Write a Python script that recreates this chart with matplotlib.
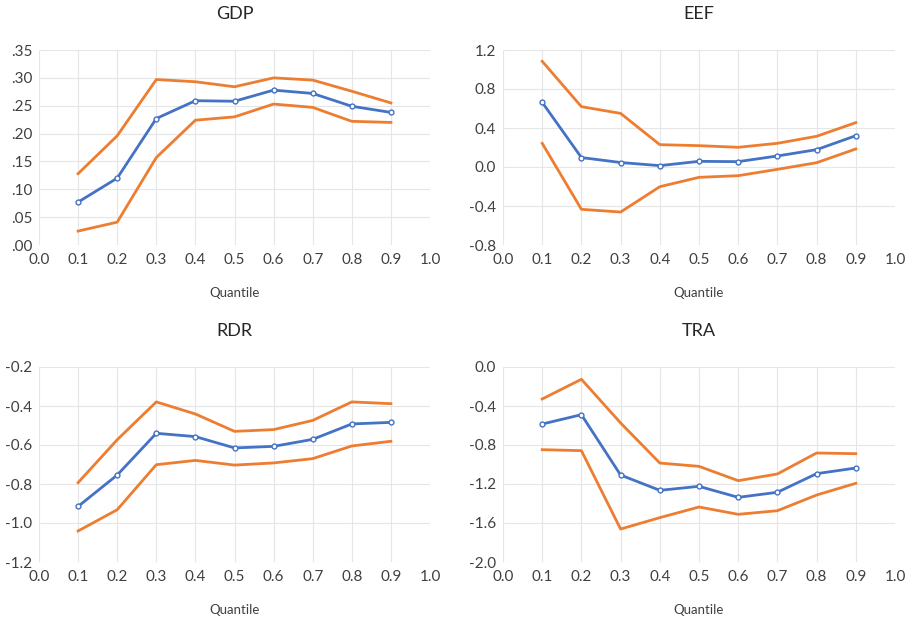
import matplotlib.pyplot as plt
from matplotlib.ticker import FuncFormatter, MultipleLocator

plt.rcParams['font.family'] = ['Lato', 'DejaVu Sans']
plt.rcParams['axes.unicode_minus'] = False

quantiles = [0.1, 0.2, 0.3, 0.4, 0.5, 0.6, 0.7, 0.8, 0.9]

gdp_coef = [0.077, 0.120, 0.227, 0.259, 0.258, 0.278, 0.272, 0.249, 0.238]
gdp_upper = [0.128, 0.196, 0.297, 0.293, 0.284, 0.300, 0.296, 0.276, 0.255]
gdp_lower = [0.025, 0.041, 0.157, 0.224, 0.230, 0.253, 0.247, 0.222, 0.220]

eef_coef = [0.663, 0.097, 0.046, 0.014, 0.058, 0.055, 0.113, 0.178, 0.321]
eef_upper = [1.084, 0.619, 0.550, 0.229, 0.219, 0.202, 0.243, 0.315, 0.455]
eef_lower = [0.243, -0.434, -0.462, -0.202, -0.106, -0.089, -0.024, 0.044, 0.185]

rdr_coef = [-0.915, -0.754, -0.540, -0.557, -0.615, -0.607, -0.571, -0.492, -0.484]
rdr_upper = [-0.793, -0.573, -0.379, -0.441, -0.530, -0.521, -0.474, -0.379, -0.388]
rdr_lower = [-1.041, -0.932, -0.701, -0.679, -0.703, -0.692, -0.670, -0.605, -0.581]

tra_coef = [-0.585, -0.489, -1.108, -1.265, -1.224, -1.337, -1.285, -1.094, -1.036]
tra_upper = [-0.328, -0.126, -0.574, -0.985, -1.019, -1.166, -1.097, -0.882, -0.889]
tra_lower = [-0.848, -0.858, -1.662, -1.545, -1.436, -1.511, -1.474, -1.313, -1.193]

BLUE = '#4472C4'
ORANGE = '#ED7D31'

fig = plt.figure(figsize=(9.06, 6.17), dpi=100)

W, H = 906, 617


def make_axes(left_px, top_px, right_px, bottom_px):
    return fig.add_axes([left_px / W, 1 - bottom_px / H,
                         (right_px - left_px) / W, (bottom_px - top_px) / H])


panels = [
    ("GDP", gdp_coef, gdp_upper, gdp_lower, (0.0, 0.35, 0.05), "gdp", (39, 50, 430, 245)),
    ("EEF", eef_coef, eef_upper, eef_lower, (-0.8, 1.2, 0.4), "one", (503, 50, 895, 245)),
    ("RDR", rdr_coef, rdr_upper, rdr_lower, (-1.2, -0.2, 0.2), "one", (39, 367, 430, 562)),
    ("TRA", tra_coef, tra_upper, tra_lower, (-2.0, 0.0, 0.4), "one", (503, 367, 895, 562)),
]

for title, coef, upper, lower, (ymin, ymax, step), fmt, box in panels:
    ax = make_axes(*box)
    ax.plot(quantiles, upper, color=ORANGE, lw=2)
    ax.plot(quantiles, lower, color=ORANGE, lw=2)
    ax.plot(quantiles, coef, color=BLUE, lw=2, marker='o', ms=3.5,
            mfc='white', mec=BLUE, mew=1)

    ax.set_xlim(0, 1)
    ax.set_ylim(ymin, ymax)
    ax.xaxis.set_major_locator(MultipleLocator(0.1))
    ax.yaxis.set_major_locator(MultipleLocator(step))
    ax.xaxis.set_major_formatter(FuncFormatter(lambda v, p: f"{v:.1f}"))
    if fmt == "gdp":
        ax.yaxis.set_major_formatter(FuncFormatter(lambda v, p: f"{v:.2f}".lstrip('0')))
    else:
        ax.yaxis.set_major_formatter(FuncFormatter(lambda v, p: f"{v:.1f}"))

    ax.grid(True, color='#e6e6e6', lw=0.8)
    ax.set_axisbelow(True)
    for s in ax.spines.values():
        s.set_visible(False)
    ax.tick_params(length=0, labelsize=11, colors='#404040')
    ax.tick_params(axis='x', pad=6)
    ax.tick_params(axis='y', pad=5)

    ax.set_title(title, fontsize=13, color='#262626', pad=22)
    ax.set_xlabel("Quantile", fontsize=9.5, color='#404040', labelpad=14)

fig.savefig("out.png", dpi=100)
